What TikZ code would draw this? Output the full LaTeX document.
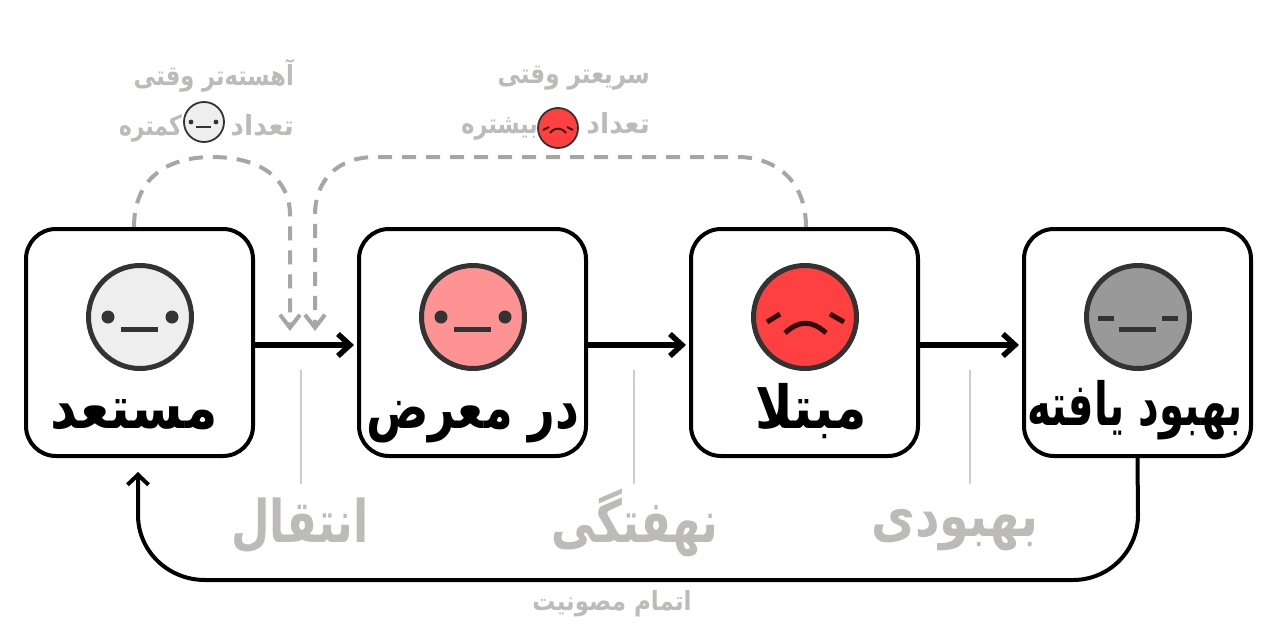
\documentclass[tikz,border=0pt]{standalone}
\usepackage{fontspec}
\usepackage{graphicx}
\usetikzlibrary{arrows.meta}
\TeXXeTstate=1
\newfontfamily\arabicfont[Script=Arabic]{DejaVu Sans}
\definecolor{lbl}{HTML}{BDBBBA}
\definecolor{dashc}{HTML}{A6A6A6}
\definecolor{facec}{HTML}{333333}
\definecolor{fs}{HTML}{EEEEEE}
\definecolor{fe}{HTML}{FF9393}
\definecolor{fi}{HTML}{FF4040}
\definecolor{fr}{HTML}{999999}
\newcommand{\fa}[3]{\scalebox{#1}[#2]{\arabicfont #3}}
\tikzset{
  x=1pt,y=-1pt,
  statebox/.style={draw=black,line width=4pt,rounded corners=30pt,minimum width=227pt,minimum height=227pt,inner sep=0pt,fill=white},
  bigface/.style={circle,draw=facec,line width=5pt,minimum size=103pt,inner sep=0pt},
  smallface/.style={circle,draw=facec,line width=1.8pt,minimum size=40pt,inner sep=0pt},
  feat/.style={draw=facec,line width=5pt},
  sadfeat/.style={draw=black!80!fi,line width=5pt},
  mainarrow/.style={draw=black,line width=5.5pt,-{Straight Barb[length=12pt,width=22pt,line width=5.5pt]}},
  dasharrow/.style={draw=dashc,line width=4pt,dash pattern=on 14pt off 10pt,-{Straight Barb[length=13pt,width=20pt,line width=4pt]}},
  returnarrow/.style={draw=black,line width=4pt,-{Straight Barb[length=10pt,width=21pt,line width=4pt]}},
  tick/.style={draw=lbl!75,line width=1.3pt},
  boxlabel/.style={text=black,font=\fontsize{44}{50}\bfseries,inner sep=0pt,anchor=base},
  steplabel/.style={text=lbl,font=\fontsize{42}{48}\bfseries,inner sep=0pt,anchor=base},
  smalllabel/.style={text=lbl,font=\fontsize{23}{28}\bfseries,inner sep=0pt,anchor=base},
  smalleast/.style={smalllabel,anchor=base east},
}
\begin{document}
\begin{tikzpicture}
\useasboundingbox (0,0) rectangle (1280,640);
\fill[white] (0,0) rectangle (1280,640);
% boxes
\node[statebox] (s) at (139.5,342.5) {};
\node[statebox] (e) at (472.5,342.5) {};
\node[statebox] (i) at (804.5,342.5) {};
\node[statebox] (r) at (1137.5,342.5) {};
% faces
\node[bigface,fill=fs] (fs1) at (140,317) {};
\node[bigface,fill=fe] (fe1) at (473,317) {};
\node[bigface,fill=fi] (fi1) at (805,317) {};
\node[bigface,fill=fr] (fr1) at (1138,317) {};
\fill[facec] (108,317) circle (6.5) (172,317) circle (6.5);
\draw[feat] (121,329) -- (158,329);
\fill[facec] (441,317) circle (6.5) (505,317) circle (6.5);
\draw[feat] (454,329) -- (491,329);
\draw[sadfeat] (767,322) -- (780,314) (844,322) -- (830,314);
\draw[sadfeat] (785,333) .. controls (799,320) and (812,320) .. (826,333);
\draw[feat] (1098,318) -- (1114,318) (1162,318) -- (1178,318);
\draw[feat] (1119,329) -- (1156,329);
% box labels
\node[boxlabel] (ls) at (134,428) {\fa{1.19}{1.35}{\beginR مستعد\endR}};
\node[boxlabel] (le) at (473,428) {\fa{1.055}{1.35}{\beginR در معرض\endR}};
\node[boxlabel] (li) at (811,428) {\fa{1.15}{1.35}{\beginR مبتلا\endR}};
\node[boxlabel] (lr) at (1135,425) {\fa{0.917}{1.35}{\beginR بهبود یافته\endR}};
% main arrows
\draw[mainarrow,shorten >=3pt] ([yshift=-2.5pt]s.east) -- ([yshift=-2.5pt]e.west);
\draw[mainarrow,shorten >=3pt] ([yshift=-2.5pt]e.east) -- ([yshift=-2.5pt]i.west);
\draw[mainarrow,shorten >=3pt] ([yshift=-2.5pt]i.east) -- ([yshift=-2.5pt]r.west);
% return arrow
\coordinate (rs) at (r.south);
\coordinate (back) at (138,472);
\draw[returnarrow] (rs) -- (1138,515) .. controls (1138,551) and (1109,580) .. (1073,580) -- (205,580) .. controls (168,580) and (138,551) .. (138,515) -- (back);
% dashed arrows
\coordinate (d1s) at (134,227);
\coordinate (d1e) at (290,331);
\coordinate (d2s) at (806,227);
\coordinate (d2e) at (315,331);
\draw[dasharrow] (d1s) .. controls (134,180) and (165,157) .. (212,157) .. controls (262,157) and (290,180) .. (290,215) -- (d1e);
\draw[dasharrow] (d2s) .. controls (806,180) and (775,157) .. (737,157) -- (375,157) .. controls (338,157) and (315,180) .. (315,215) -- (d2e);
% ticks
\coordinate (t1a) at (301,370); \coordinate (t1b) at (301,484);
\coordinate (t2a) at (634,370); \coordinate (t2b) at (634,484);
\coordinate (t3a) at (970,370); \coordinate (t3b) at (970,484);
\draw[tick] (t1a) -- (t1b);
\draw[tick] (t2a) -- (t2b);
\draw[tick] (t3a) -- (t3b);
% step labels
\node[steplabel] (l1) at (300,542) {\fa{1.06}{1.4}{\beginR انتقال\endR}};
\node[steplabel] (l2) at (635,542) {\fa{1.06}{1.4}{\beginR نهفتگی\endR}};
\node[steplabel] (l3) at (955,536) {\fa{1.14}{1.4}{\beginR بهبودی\endR}};
\node[smalllabel] (l4) at (612,610) {\fa{1}{1.15}{\beginR اتمام مصونیت\endR}};
% annotations
\node[smalleast] (a1) at (294,85) {\fa{0.98}{1.2}{\beginR آهسته‌تر وقتی\endR}};
\node[smalleast] (a2) at (294,135) {\fa{1.16}{1.2}{\beginR تعداد\endR}};
\node[smallface,fill=fs] (a3) at (204,122) {};
\node[smalleast] (a4) at (182,135) {\fa{0.95}{1.2}{\beginR کمتره\endR}};
\fill[facec] (191,122) circle (2.4) (216,122) circle (2.4);
\draw[facec,line width=1.8pt] (196,127) -- (211,127);
\node[smalleast] (b1) at (650,83) {\fa{1}{1.2}{\beginR سریعتر وقتی\endR}};
\node[smalleast] (b2) at (650,133) {\fa{1.16}{1.2}{\beginR تعداد\endR}};
\node[smallface,fill=fi] (b3) at (558,128) {};
\node[smalleast] (b4) at (538,133) {\fa{0.97}{1.2}{\beginR بیشتره\endR}};
\draw[black!80!fi,line width=1.8pt] (543,130) -- (549,127) (573,130) -- (567,127);
\draw[black!80!fi,line width=1.8pt] (550,133) .. controls (555,127) and (561,127) .. (566,133);
\end{tikzpicture}
\end{document}
